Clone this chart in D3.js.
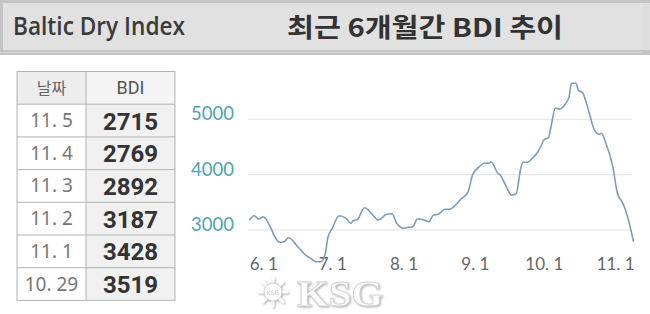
<!DOCTYPE html>
<html>
<head>
<meta charset="utf-8">
<script src="https://cdn.jsdelivr.net/npm/d3@7"></script>
<style>
  body { margin: 0; background: #fff; }
  svg { display: block; }
</style>
</head>
<body>
<svg id="chart" width="650" height="314"></svg>
<script>
// BDI, last ~6 months
var dates = ["5.26","5.28","5.30","6.1","6.4","6.6","6.8","6.10","6.12","6.16","6.19","6.22","6.24","6.26","6.28","6.29",
  "7.1","7.4","7.7","7.9","7.10","7.12","7.15","7.18","7.21","7.25","7.27","7.29",
  "8.1","8.3","8.5","8.7","8.10","8.12","8.14","8.16","8.19","8.21","8.23","8.26","8.29","8.31",
  "9.3","9.5","9.7","9.8","9.11","9.12","9.14","9.17","9.19","9.21","9.22","9.24","9.26","9.28","9.30",
  "10.1","10.3","10.4","10.6","10.8","10.10","10.12","10.13","10.15","10.16","10.18","10.20","10.23","10.25","10.26","10.28","10.31",
  "11.2","11.4","11.5","11.7","11.9"];
var values = [3181,3258,3199,3240,3060,2879,2778,2789,2861,2698,2561,2476,2427,2427,2579,2850,
  3031,3258,3211,3121,3163,3193,3403,3302,3181,3289,3289,3121,
  3031,3049,3060,3199,3181,3150,3271,3284,3374,3374,3425,3560,3681,3994,
  4144,4205,4205,4234,4025,3994,3844,3632,3663,4115,4223,4223,4296,4386,4536,
  4626,4668,4838,5199,5186,5259,5409,5651,5651,5530,5470,5228,4807,4729,4747,4567,4144,
  3663,3511,3421,3150,2789];

var tableDates = ["11. 5","11. 4","11. 3","11. 2","11. 1","10. 29"];
var tableBdi = [2715, 2769, 2892, 3187, 3428, 3519];
var xTickLabels = ["6. 1","7. 1","8. 1","9. 1","10. 1","11. 1"];
var yTicks = [3000, 4000, 5000];

var parse = d3.timeParse("%Y.%m.%d");
var data = dates.map(function(d, i) {
  return { date: parse("2021." + d), value: values[i] };
});

var svg = d3.select("#chart");

var defs = svg.append("defs");
var shadow = defs.append("filter").attr("id", "wmShadow").attr("x", "-20%").attr("y", "-20%").attr("width", "140%").attr("height", "140%");
shadow.append("feDropShadow").attr("dx", 1).attr("dy", 1).attr("stdDeviation", 0.8).attr("flood-color", "#9a9a9a").attr("flood-opacity", 0.8);

// title bar
svg.append("rect").attr("x", 0).attr("y", 0).attr("width", 650).attr("height", 55).attr("fill", "#c4c4c4");
svg.append("rect").attr("x", 3).attr("y", 3).attr("width", 639).attr("height", 47).attr("fill", "#e1e1e1");
svg.append("rect").attr("x", 642).attr("y", 3).attr("width", 8).attr("height", 47).attr("fill", "#dedede");
svg.append("line").attr("x1", 0).attr("x2", 642).attr("y1", 52.5).attr("y2", 52.5).attr("stroke", "#d4d4d4");
svg.append("text")
  .attr("x", 13).attr("y", 35)
  .attr("textLength", 172).attr("lengthAdjust", "spacingAndGlyphs")
  .style("font-family", "'Open Sans', sans-serif").style("font-weight", 600)
  .style("font-size", "25px").attr("fill", "#3a3a3a")
  .text("Baltic Dry Index");
svg.append("text")
  .attr("x", 287).attr("y", 37)
  .attr("textLength", 276).attr("lengthAdjust", "spacingAndGlyphs")
  .style("font-family", "'Noto Sans CJK KR', sans-serif").style("font-weight", 700)
  .style("font-size", "26px").attr("fill", "#333")
  .text("최근 6개월간 BDI 추이");

// table
var tableX = 17, colSplit = 86, tableRight = 175, tableTop = 71.5, rowH = 32.7;

var head = svg.append("g");
head.append("rect").attr("x", tableX).attr("y", tableTop).attr("width", colSplit - tableX).attr("height", rowH).attr("fill", "#ededed");
head.append("rect").attr("x", colSplit).attr("y", tableTop).attr("width", tableRight - colSplit).attr("height", rowH).attr("fill", "#f4f4f4");
head.append("text").attr("x", (tableX + colSplit) / 2).attr("y", tableTop + rowH / 2 + 6)
  .attr("text-anchor", "middle").style("font-family", "'Noto Sans CJK KR', sans-serif")
  .style("font-size", "16px").attr("fill", "#666").text("날짜");
head.append("text").attr("x", (colSplit + tableRight) / 2).attr("y", tableTop + rowH / 2 + 6.5)
  .attr("text-anchor", "middle").style("font-family", "Roboto, sans-serif")
  .style("font-size", "18px").attr("fill", "#555").text("BDI");

var rows = svg.selectAll("g.row")
  .data(tableBdi)
  .enter()
  .append("g")
  .attr("class", "row")
  .attr("transform", function(d, i) { return "translate(0," + (tableTop + rowH * (i + 1)) + ")"; });

rows.append("rect").attr("x", tableX).attr("width", colSplit - tableX).attr("height", rowH).attr("fill", "#fff");
rows.append("rect").attr("x", colSplit).attr("width", tableRight - colSplit).attr("height", rowH).attr("fill", "#f1f1f1");
rows.append("text")
  .attr("x", (tableX + colSplit) / 2).attr("y", rowH / 2 + 6.5)
  .attr("text-anchor", "middle")
  .style("font-family", "'Noto Sans', sans-serif").style("font-size", "19px")
  .attr("fill", "#777")
  .text(function(d, i) { return tableDates[i]; });
rows.append("text")
  .attr("x", (colSplit + tableRight) / 2).attr("y", rowH / 2 + 9)
  .attr("text-anchor", "middle")
  .style("font-family", "Roboto, sans-serif").style("font-weight", 700).style("font-size", "24px")
  .attr("fill", "#333")
  .text(function(d) { return d; });

// table borders
var nRows = tableBdi.length + 1;
var borders = svg.append("g").attr("stroke", "#b3b3b3").attr("stroke-width", 1).attr("fill", "none");
borders.append("rect").attr("x", tableX).attr("y", tableTop).attr("width", tableRight - tableX).attr("height", rowH * nRows);
borders.append("line").attr("x1", colSplit).attr("x2", colSplit).attr("y1", tableTop).attr("y2", tableTop + rowH * nRows);
borders.selectAll("line.h")
  .data(d3.range(1, nRows))
  .enter()
  .append("line")
  .attr("class", "h")
  .attr("x1", tableX).attr("x2", tableRight)
  .attr("y1", function(d) { return tableTop + rowH * d; })
  .attr("y2", function(d) { return tableTop + rowH * d; });

// chart
var x = d3.scaleTime()
  .domain([parse("2021.6.1"), parse("2021.11.1")])
  .range([263.3, 615.1]);
var y = d3.scaleLinear()
  .domain([3000, 5000])
  .range([230, 119.3]);

// grid
svg.append("g")
  .selectAll("line")
  .data(yTicks)
  .enter()
  .append("line")
  .attr("x1", 248).attr("x2", 632)
  .attr("y1", function(d) { return y(d); })
  .attr("y2", function(d) { return y(d); })
  .attr("stroke", "#e3e3e3").attr("stroke-width", 1);

var yAxis = svg.append("g")
  .attr("transform", "translate(240,0)")
  .call(d3.axisLeft(y).tickValues(yTicks).tickSize(0).tickPadding(6).tickFormat(d3.format("d")));
yAxis.select(".domain").remove();
yAxis.selectAll("text")
  .attr("dy", "0.02em")
  .style("font-family", "Lato, sans-serif").style("font-size", "18.5px")
  .attr("fill", "#4da3b1");

var xAxis = svg.append("g")
  .attr("transform", "translate(0,252)")
  .call(d3.axisBottom(x)
    .tickValues(xTickLabels.map(function(t) { return parse("2021." + t.replace(" ", "")); }))
    .tickSize(0).tickPadding(6)
    .tickFormat(function(d, i) { return xTickLabels[i]; }));
xAxis.select(".domain").remove();
xAxis.selectAll("text")
  .style("font-family", "Lato, sans-serif").style("font-size", "17px")
  .attr("fill", "#666");

var line = d3.line()
  .x(function(d) { return x(d.date); })
  .y(function(d) { return y(d.value); })
  .curve(d3.curveMonotoneX);

svg.append("path")
  .datum(data)
  .attr("d", line)
  .attr("fill", "none")
  .attr("stroke", "#7d9db6")
  .attr("stroke-width", 1.6)
  .attr("stroke-linejoin", "round");

// KSG watermark
var wm = svg.append("g").attr("transform", "translate(273,292)").attr("filter", "url(#wmShadow)");
wm.selectAll("line")
  .data(d3.range(8))
  .enter()
  .append("line")
  .attr("x1", function(d) { return Math.cos(d * Math.PI / 4) * 8; })
  .attr("y1", function(d) { return Math.sin(d * Math.PI / 4) * 8; })
  .attr("x2", function(d) { return Math.cos(d * Math.PI / 4) * 14; })
  .attr("y2", function(d) { return Math.sin(d * Math.PI / 4) * 14; })
  .attr("stroke", "#fff").attr("stroke-width", 3).attr("stroke-linecap", "round");
wm.append("circle").attr("r", 9).attr("fill", "#fff").attr("stroke", "#cfcfcf").attr("stroke-width", 1);
wm.append("text").attr("text-anchor", "middle").attr("y", 2.5)
  .style("font-family", "'DejaVu Sans', sans-serif").style("font-size", "6px").attr("fill", "#c4c4c4").text("KSG");
svg.append("text")
  .attr("x", 297).attr("y", 306)
  .attr("textLength", 86).attr("lengthAdjust", "spacingAndGlyphs")
  .attr("filter", "url(#wmShadow)")
  .style("font-family", "'Liberation Serif', serif").style("font-weight", 700).style("font-size", "36px")
  .attr("fill", "#fff").attr("stroke", "#d0d0d0").attr("stroke-width", 0.8)
  .text("KSG");
</script>
</body>
</html>
